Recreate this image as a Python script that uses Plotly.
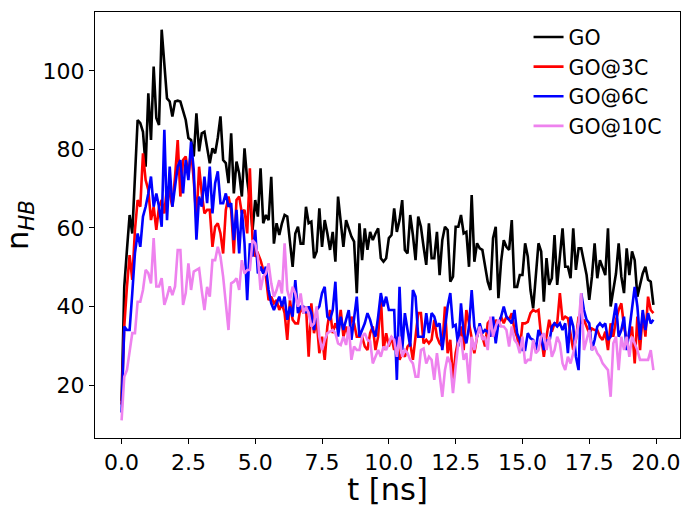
import numpy as np
import plotly.graph_objects as go

go_vals = [16, 45, 54.4, 63.3, 58.6, 73, 87.5, 86.7, 84.5, 75.6, 94.3, 82.4, 101.1, 88, 86.2, 110.5, 102, 93, 92.2, 88.4,
           92.2, 92.4, 92.2, 90, 87.5, 82.9, 82.4, 78.2, 89.2, 79.5, 84.1, 84.5, 80,
           76.5, 80.3, 79, 83, 88.4, 77.3, 76.5, 71.4, 84.1, 68.8, 76.9, 73.9, 68, 80.3, 72.2, 67.1, 59.5, 67.1, 62.9,
           75.2, 61.2, 63.3, 62, 73, 56, 61.2, 58.2, 61.2, 63.3, 62.9, 57, 50.1, 58.6, 60.3, 56, 56, 65.4, 61.2,
           61.6, 52.3, 54, 65, 55.2, 62, 58.6, 54.4, 59, 51.4, 68, 62, 55.2, 62, 59.9, 57.8, 56.5, 43.4, 61.2, 51.8,
           59.9, 54.4, 59, 56.9, 58.6, 59.9, 52.3, 51.4, 52.3, 57.4, 58.2, 65, 59, 62, 67.1, 54.4, 53.5, 63.3, 58.2,
           51.8, 62.9,
           60.3, 55.2, 50.6, 61.2, 52.3, 52.3, 59, 48, 56.9, 60.3, 59.5, 46.3, 47.6, 60.3, 60.3, 63.3, 58.6, 59, 50.1,
           68.4, 51.4, 56.1, 54.8, 54.4, 50.1, 46.3, 44.2, 57.4, 60.3, 42.1, 51.4, 56.9, 55.2, 54.4, 62, 45, 45, 48, 48,
           56.1, 52.7, 44.2, 39.5, 48.4, 56.1, 54, 41.2, 52.3, 45.5, 47.2, 58.2, 45.5, 52.7, 59.9, 50.1, 50.1, 47.2,
           59.9, 49.3, 54.8, 54.8, 51.8, 48, 41.7, 47.6, 56.1, 47.2, 51.8, 50.1, 48, 59.9, 40, 44.2, 48.4, 56.1, 47.6,
           43.4, 54.8, 48, 54, 51.8, 42.5, 45.5, 48.4, 50.1, 46.8, 46.3, 40.4]

go3c_vals = [15, 34.9, 45, 53.1, 46.8, 59.5, 67.1, 65.4, 79, 72.2, 69.7, 62, 65.4, 59.5, 65.4, 67.1, 63.7, 70.5, 68.8,
             65.4, 73.1, 82.4, 68, 77.3, 78.2, 73.1, 79.9, 72.2, 62, 75.6, 68.8, 63.7, 64.6,
             64.6, 55.2, 60.3, 61.2, 58.6, 53.5, 64.6, 68, 64.6, 53.5, 67.1, 68, 63.7, 64.6, 58.6, 75.2, 56.9, 52.7,
             53.5, 51.8, 49.3, 47.6, 41.6, 42.5, 40.8, 41.6, 39.1, 40.8, 38.3, 31.5, 41.6, 36.6, 35.7, 35.7, 40, 38.3,
             40, 27.2,
             40.8, 33.2, 36.6, 28.1, 32.3, 26.4, 34.9, 39.1, 33.2, 35.7, 34, 39.1, 32.3, 34.9, 32.3, 37.4, 35.7, 32.3,
             32.3, 32.3, 29.8, 28.9, 33.2, 34.9, 28.9, 32.3, 42.5, 28.9, 33.2, 29.8, 32.3, 28.9, 32.3, 26.4, 28.1, 27.2,
             29.8, 30.6, 26.4, 33.2, 38.3,
             38.3, 30.6, 31.5, 30.6, 31.5, 36.6, 32.3, 30.6, 29.8, 40, 28.1, 31.5, 21.3, 28.1, 31.5, 34.9, 28.9, 39.1,
             35.7, 32.3, 28.1, 32.3, 34.9, 32.3, 29.8, 35.7, 36.6, 32.3, 36.6, 34.9, 37.4, 35.7, 37.4, 36.6, 38.3, 34,
             32.3, 28.9, 35.7,
             35.7, 36.1, 38.3, 39.1, 38.7, 39.1, 32.3, 27.2, 32.3, 36.6, 33.6, 35.7, 35.7, 43.4, 36.6, 37.4, 37, 32.3,
             28.9, 31.5, 37.4, 35.7, 36.6, 34.9, 33.2, 34.4, 34, 34, 32.3, 31.5, 33.6, 28.9, 35.7, 32.3, 36.6, 39.1,
             40.8, 34.9, 31.5, 32.3, 34.9, 25.5, 37.4, 28.9, 38.3, 32.3, 42.5, 39.1, 38.3]

go6c_vals = [13, 34.9, 34, 34, 43.4, 53.6, 58.6, 55.2, 62.9, 65.4, 68.8, 73.1, 65.4, 68.8, 65.4, 60.3, 85, 62, 75.6,
             65.4, 70.5, 75.6, 77.3, 68.8, 77.3, 72.2, 82, 74.8, 57, 68, 65.4, 73.1, 66.3,
             75.6, 63.7, 71.4, 74.4, 66.3, 66.3, 68.8, 65.4, 66.3, 56.9, 64.6, 53.5, 64.6, 56.1, 41.6, 56.1, 52.7,
             59.5, 48.4, 50.1, 48.4, 50.1, 44.2, 40.8, 39.1, 40.8, 42.5, 40, 42.5, 36.6, 40, 37.4, 46.7, 38.3, 40, 40,
             38.3, 40,
             38.3, 34, 39.1, 40, 43.4, 45, 37.4, 36.6, 39.1, 46.3, 32.3, 37.4, 34, 36.6, 39.1, 31.5, 37.4, 42.5, 32.3,
             34, 35.7, 38.3, 36.6, 34, 32.3, 37.4, 43.4, 40, 42.5, 39.1, 39.1, 39.1, 21.3, 45, 28.9, 38.3, 34, 29.8,
             44.2, 42.5, 32.3,
             32.3, 32.3, 38.3, 33.2, 38.3, 37.4, 34.9, 35.7, 28.9, 34.9, 40, 43.4, 34.9, 35.3, 29.8, 40.8, 33.2, 30.6,
             34.9, 44.2, 34.9, 32.3, 35.7, 33.2, 34, 33.6, 32.3, 37.4, 30.6, 35.7, 37.4, 40, 37.4, 36.6, 35.7, 39.1,
             33.2, 31.5, 28.9,
             28.9, 33.2, 31.9, 31.5, 28.9, 34, 32.3, 28.9, 31.5, 30.6, 34.9, 35.7, 34.9, 35.7, 34, 35.7, 28.1, 37.4,
             34.9, 27.2, 23.8, 43.4, 39.1, 36.6, 35.7, 28.9, 31.5, 34.9, 35.7, 34.9, 35.7, 31.5, 32.3, 36.6, 40.8,
             32.3, 34, 37.4, 28.9, 34, 40, 45, 40, 31.5, 39.1, 34, 38.3, 35.7, 36.6]

go10c_vals = [11, 22.1, 23.8, 28.9, 33.2, 33.2, 41.2, 41.2, 44.2, 49.3, 48.5, 45.9, 57.4, 45.1, 45.1, 47.2, 40.4, 42.5,
              45.1, 42.9, 45.1, 54.4, 54.4, 40.4, 43.4, 51, 44.2, 48.9, 49.3, 49.7, 44, 39.1, 45,
              42.5, 51.8, 51.8, 55.2, 52.7, 47.6, 41.6, 34, 45.9, 46.3, 47.2, 44.2, 51.8, 48.4, 49.3, 49.3, 56.9, 56.1,
              52.7, 44.2, 47.6, 48.4, 51, 45.9, 42.5, 44.2, 46.7, 43.3, 56.1, 44.2, 41.6, 45, 43.3, 39.9, 43.3, 38.3,
              39.9, 38.3,
              34.9, 35.7, 40, 32.3, 28.9, 31.5, 33.2, 33.6, 34, 33.2, 30.6, 30.2, 32.3, 30.2, 34.9, 26.4, 29.8, 28.9,
              28.9, 32.3, 33.2, 31.5, 31.1, 25.5, 27.2, 28.9, 27.2, 29.8, 28.9, 30.6, 32.3, 31.5, 27.2, 32.3, 27.2,
              28.9, 28.1, 26.4, 25.5, 22.1, 22.1,
              28.9, 29.3, 25.5, 27.2, 26.4, 21.3, 28.1, 23, 17, 23.8, 27.2, 25.5, 17.9, 24.7, 30.6, 32.3, 26.4, 28.1,
              20.4, 32.3, 28.9, 32.3, 34.9, 31.5, 32.3, 28.9, 37.4, 32.3, 34.9, 36.6, 34.9, 34.9, 34, 29.8, 34.9, 31.5,
              30.6, 28.1, 32.3,
              25.5, 26.4, 26.4, 31.5, 28.1, 28.9, 32.3, 33.2, 28.9, 32.3, 27.2, 28.9, 32.3, 30.6, 25.5, 23.8, 27.2,
              25.5, 28.1, 32.3, 35.7, 43.4, 28.9, 31.5, 34, 28.9, 29.8, 28.1, 27.2, 25.5, 24.7, 23.8, 17, 30.6, 32.3,
              23.8, 32.3, 28.9, 32.3, 27.2, 32.3, 30.6, 28.9, 26.4, 26.4, 26.4, 26.4, 28.9, 23.8]

series_names = ["GO", "GO@3C", "GO@6C", "GO@10C"]
series_colors = ["black", "red", "blue", "violet"]
x_ticks = [0.0, 2.5, 5.0, 7.5, 10.0, 12.5, 15.0, 17.5, 20.0]
y_ticks = [20, 40, 60, 80, 100]

fig = go.Figure()
for name, vals, col in zip(series_names, [go_vals, go3c_vals, go6c_vals, go10c_vals], series_colors):
    t = np.arange(len(vals)) * 0.1
    fig.add_trace(go.Scatter(x=t, y=vals, mode="lines", name=name,
                             line=dict(color=col, width=2.6)))

font_family = "DejaVu Sans"
fig.update_layout(
    width=686, height=507,
    margin=dict(l=95, r=6, t=12, b=69),
    paper_bgcolor="white", plot_bgcolor="white",
    font=dict(family=font_family, color="black"),
    legend=dict(x=0.977, y=0.988, xanchor="right", yanchor="top",
                bgcolor="rgba(0,0,0,0)", font=dict(size=20.5, family=font_family),
                tracegroupgap=0),
    xaxis=dict(range=[-0.995, 20.895], tickvals=x_ticks, tickformat=".1f",
               showgrid=False, zeroline=False, showline=True, mirror=True,
               linecolor="black", linewidth=1, ticks="outside", ticklen=5,
               tickcolor="black", tickfont=dict(size=22), automargin=False,
               title=dict(text="t [ns]", font=dict(size=30.5), standoff=6)),
    yaxis=dict(range=[6.5, 115.0], tickvals=y_ticks,
               showgrid=False, zeroline=False, showline=True, mirror=True,
               linecolor="black", linewidth=1, ticks="outside", ticklen=5,
               tickcolor="black", tickfont=dict(size=22), automargin=False,
               title=dict(text="n<sub><i>HB</i></sub>", font=dict(size=30.5), standoff=12)),
)

fig.write_html("out.html", config={"displayModeBar": False},
               post_script="document.body.style.margin='0';document.body.style.overflow='hidden';")
